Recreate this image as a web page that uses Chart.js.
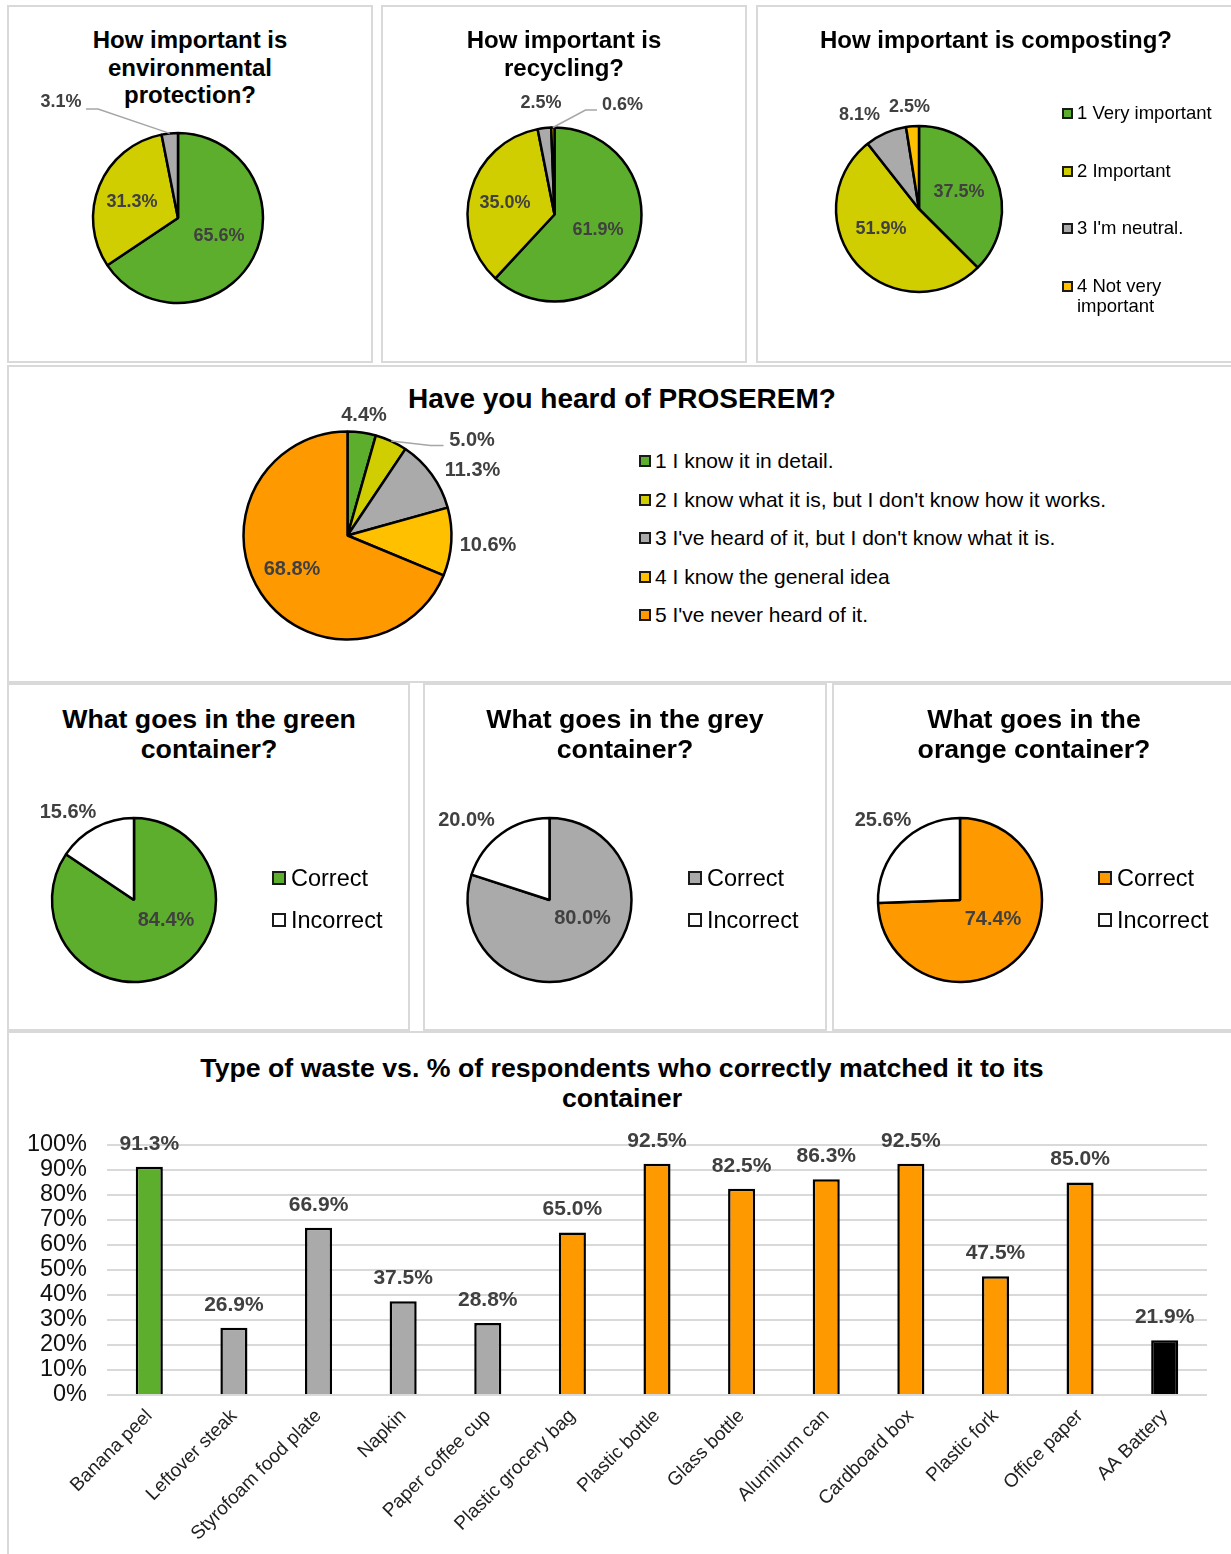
<!DOCTYPE html>
<html>
<head>
<meta charset="utf-8">
<title>Waste sorting survey</title>
<script src="https://cdn.jsdelivr.net/npm/chart.js@4.4.1/dist/chart.umd.min.js"></script>
<style>
  body { margin: 0; background: #fff; }
  #page { position: relative; width: 1231px; height: 1554px; overflow: hidden;
          font-family: "Liberation Sans", Arial, sans-serif; }
  .panel { position: absolute; border: 2px solid #d9d9d9; box-sizing: border-box; }
  canvas { position: absolute; }
  .title { position: absolute; text-align: center; font-weight: bold; color: #000; white-space: nowrap; }
  .item { position: absolute; color: #000; }
  .item .box { position: absolute; left: 0; box-sizing: border-box; border: 2px solid #1a1a1a; }
  .item .txt { position: absolute; white-space: normal; }
</style>
</head>
<body>
<div id="page"></div>
<script>
// survey answers (percent of respondents)
const importanceLabels = ['1 Very important', '2 Important', "3 I'm neutral.", '4 Not very important'];
const envProtection = [65.6, 31.3, 3.1];
const recycling = [61.9, 35.0, 2.5, 0.6];
const composting = [37.5, 51.9, 8.1, 2.5];

const proseremLabels = [
  '1 I know it in detail.',
  "2 I know what it is, but I don't know how it works.",
  "3 I've heard of it, but I don't know what it is.",
  '4 I know the general idea',
  "5 I've never heard of it."
];
const proseremValues = [4.4, 5.0, 11.3, 10.6, 68.8];

const containerLabels = ['Correct', 'Incorrect'];
const greenContainer = [84.4, 15.6];
const greyContainer = [80.0, 20.0];
const orangeContainer = [74.4, 25.6];

const wasteItems = ['Banana peel', 'Leftover steak', 'Styrofoam food plate', 'Napkin', 'Paper coffee cup',
  'Plastic grocery bag', 'Plastic bottle', 'Glass bottle', 'Aluminum can', 'Cardboard box',
  'Plastic fork', 'Office paper', 'AA Battery'];
const wasteCorrect = [91.3, 26.9, 66.9, 37.5, 28.8, 65.0, 92.5, 82.5, 86.3, 92.5, 47.5, 85.0, 21.9];
const wasteBin = ['green', 'grey', 'grey', 'grey', 'grey', 'orange', 'orange', 'orange', 'orange',
  'orange', 'orange', 'orange', 'battery'];
const yMax = 100;
const yStep = 10;

// colours
const GREEN = '#5eae2e', OLIVE = '#d0ce00', GREY = '#aaaaaa', GOLD = '#ffc000', ORANGE = '#ff9900';
const binColors = { green: GREEN, grey: GREY, orange: ORANGE, battery: '#000000' };
const FONT = '"Liberation Sans", Arial, sans-serif';

Chart.defaults.font.family = FONT;

const page = document.getElementById('page');

function el(tag, cls, css) {
  const d = document.createElement(tag);
  if (cls) d.className = cls;
  Object.assign(d.style, css || {});
  page.appendChild(d);
  return d;
}

function panel(x, y, w, h) {
  el('div', 'panel', { left: x + 'px', top: y + 'px', width: w + 'px', height: h + 'px' });
}

function title(lines, cx, firstY, size, lh) {
  const d = el('div', 'title', {
    left: (cx - 600) + 'px', width: '1200px', top: (firstY - lh / 2) + 'px',
    fontSize: size + 'px', lineHeight: lh + 'px'
  });
  lines.forEach((t, i) => {
    if (i) d.appendChild(document.createElement('br'));
    d.appendChild(document.createTextNode(t));
  });
}

function legend(labels, colors, lg) {
  labels.forEach((t, i) => {
    const it = el('div', 'item', { left: lg.x + 'px', top: (lg.ys[i] - lg.lh / 2) + 'px',
      fontSize: lg.size + 'px', lineHeight: lg.lh + 'px' });
    const b = document.createElement('span');
    b.className = 'box';
    Object.assign(b.style, { width: lg.box + 'px', height: lg.box + 'px', top: ((lg.lh - lg.box) / 2) + 'px',
      background: colors[i] });
    it.appendChild(b);
    const s = document.createElement('span');
    s.className = 'txt';
    s.style.left = (lg.box + lg.gap) + 'px';
    s.style.width = (lg.wrap || 800) + 'px';
    s.textContent = t;
    it.appendChild(s);
  });
}

// value labels for pie slices, placed from each arc's own geometry
const pieLabels = {
  id: 'pieLabels',
  afterDatasetsDraw(chart, args, opts) {
    const ctx = chart.ctx;
    const meta = chart.getDatasetMeta(0);
    const vals = chart.data.datasets[0].data;
    ctx.save();
    ctx.font = 'bold ' + opts.size + 'px ' + FONT;
    ctx.fillStyle = '#404040';
    ctx.textAlign = 'center';
    ctx.textBaseline = 'middle';
    meta.data.forEach((arc, i) => {
      const a = arc.getProps(['x', 'y', 'startAngle', 'endAngle', 'outerRadius'], true);
      const mid = (a.startAngle + a.endAngle) / 2;
      const spot = opts.spots[i] || {};
      let lx = a.x + Math.cos(mid) * a.outerRadius * 0.55;
      let ly = a.y + Math.sin(mid) * a.outerRadius * 0.55;
      if (spot.at) { lx = a.x + spot.at[0]; ly = a.y + spot.at[1]; }
      if (spot.leader) {
        ctx.strokeStyle = '#a6a6a6';
        ctx.lineWidth = 1.5;
        ctx.beginPath();
        ctx.moveTo(a.x + Math.cos(mid) * a.outerRadius, a.y + Math.sin(mid) * a.outerRadius);
        spot.leader.forEach(p => ctx.lineTo(a.x + p[0], a.y + p[1]));
        ctx.stroke();
      }
      ctx.fillText(vals[i].toFixed(1) + '%', lx, ly);
    });
    ctx.restore();
  }
};

function pie(box, center, labels, values, colors, spots, labelSize) {
  const cv = el('canvas', null, { left: box.x + 'px', top: box.y + 'px' });
  cv.width = box.w;
  cv.height = box.h;
  const cx = center.x - box.x, cy = center.y - box.y, s = center.r + 6;
  new Chart(cv, {
    type: 'pie',
    data: {
      labels: labels,
      datasets: [{ data: values, backgroundColor: colors, borderColor: '#000', borderWidth: 2.5 }]
    },
    options: {
      responsive: false,
      animation: false,
      radius: center.r,
      layout: { padding: { left: cx - s, top: cy - s, right: box.w - cx - s, bottom: box.h - cy - s } },
      plugins: {
        legend: { display: false },
        tooltip: { enabled: false },
        pieLabels: { spots: spots, size: labelSize }
      }
    },
    plugins: [pieLabels]
  });
}

// panel frames
panel(7, 5, 366, 358);
panel(381, 5, 366, 358);
panel(756, 5, 490, 358);
panel(7, 365, 1240, 318);
panel(7, 683, 403, 348);
panel(423, 683, 404, 348);
panel(832, 683, 414, 348);
panel(7, 1031, 1240, 540);

// row 1: importance questions
title(['How important is', 'environmental', 'protection?'], 190, 40, 24, 27.3);
pie({ x: 9, y: 7, w: 362, h: 354 }, { x: 178, y: 218, r: 85 }, importanceLabels.slice(0, 3),
  envProtection, [GREEN, OLIVE, GREY],
  [{ at: [41, 18] }, { at: [-46, -16] }, { at: [-117, -116], leader: [[-80, -109], [-92, -109]] }], 18);

title(['How important is', 'recycling?'], 564, 40, 24, 27.3);
pie({ x: 383, y: 7, w: 362, h: 354 }, { x: 554.5, y: 214.5, r: 87 }, importanceLabels,
  recycling, [GREEN, OLIVE, GREY, GOLD],
  [{ at: [43.5, 15.5] }, { at: [-49.5, -11.5] }, { at: [-13.5, -111] },
   { at: [68, -109.5], leader: [[31, -104.5], [42.5, -104.5]] }], 18);

title(['How important is composting?'], 996, 40, 24, 27.3);
pie({ x: 758, y: 7, w: 290, h: 354 }, { x: 919, y: 209, r: 83 }, importanceLabels,
  composting, [GREEN, OLIVE, GREY, GOLD],
  [{ at: [40, -16.5] }, { at: [-38, 20] }, { at: [-59.5, -93.5] }, { at: [-9.5, -102] }], 18);
legend(importanceLabels, [GREEN, OLIVE, GREY, GOLD],
  { x: 1062, ys: [113, 171, 228, 286], size: 18.5, lh: 19.5, box: 11, gap: 4, wrap: 148 });

// row 2: PROSEREM awareness
title(['Have you heard of PROSEREM?'], 622, 399, 28, 30);
pie({ x: 9, y: 367, w: 600, h: 314 }, { x: 347.5, y: 535.5, r: 104 }, proseremLabels,
  proseremValues, [GREEN, OLIVE, GREY, GOLD, ORANGE],
  [{ at: [16.5, -120] }, { at: [124.5, -95.5], leader: [[83, -90], [96, -90]] },
   { at: [125, -65] }, { at: [140.5, 10] }, { at: [-55.5, 34] }], 20);
legend(proseremLabels, [GREEN, OLIVE, GREY, GOLD, ORANGE],
  { x: 639, ys: [461, 500, 538, 577, 615], size: 21, lh: 24, box: 12, gap: 4 });

// row 3: container quizzes
title(['What goes in the green', 'container?'], 209, 719, 26.7, 30);
pie({ x: 9, y: 685, w: 399, h: 344 }, { x: 134, y: 900, r: 82 }, containerLabels,
  greenContainer, [GREEN, '#ffffff'], [{ at: [32, 20] }, { at: [-66, -88] }], 20);
legend(containerLabels, [GREEN, '#ffffff'], { x: 272, ys: [878, 920], size: 23.5, lh: 28, box: 14, gap: 5 });

title(['What goes in the grey', 'container?'], 625, 719, 26.7, 30);
pie({ x: 425, y: 685, w: 400, h: 344 }, { x: 549.5, y: 900, r: 82 }, containerLabels,
  greyContainer, [GREY, '#ffffff'], [{ at: [33, 18.5] }, { at: [-83, -80] }], 20);
legend(containerLabels, [GREY, '#ffffff'], { x: 688, ys: [878, 920], size: 23.5, lh: 28, box: 14, gap: 5 });

title(['What goes in the', 'orange container?'], 1034, 719, 26.7, 30);
pie({ x: 834, y: 685, w: 396, h: 344 }, { x: 960, y: 900, r: 82 }, containerLabels,
  orangeContainer, [ORANGE, '#ffffff'], [{ at: [33, 19] }, { at: [-77, -79.5] }], 20);
legend(containerLabels, [ORANGE, '#ffffff'], { x: 1098, ys: [878, 920], size: 23.5, lh: 28, box: 14, gap: 5 });

// row 4: bar chart of correct matches per waste type
title(['Type of waste vs. % of respondents who correctly matched it to its', 'container'], 622, 1068, 26.7, 30);

const barValues = {
  id: 'barValues',
  afterDatasetsDraw(chart) {
    const ctx = chart.ctx;
    const meta = chart.getDatasetMeta(0);
    ctx.save();
    ctx.font = 'bold 21px ' + FONT;
    ctx.fillStyle = '#404040';
    ctx.textAlign = 'center';
    ctx.textBaseline = 'middle';
    meta.data.forEach((bar, i) => {
      ctx.fillText(wasteCorrect[i].toFixed(1) + '%', bar.x, bar.y - 23);
    });
    ctx.restore();
  }
};

const barCanvas = el('canvas', null, { left: '8px', top: '1032px' });
barCanvas.width = 1223;
barCanvas.height = 522;
new Chart(barCanvas, {
  type: 'bar',
  data: {
    labels: wasteItems,
    datasets: [{
      data: wasteCorrect,
      backgroundColor: wasteBin.map(b => binColors[b]),
      borderColor: '#000',
      borderWidth: 2.5,
      categoryPercentage: 1,
      barPercentage: 0.32
    }]
  },
  options: {
    responsive: false,
    animation: false,
    layout: { padding: { top: 113, right: 24, left: 0, bottom: 0 } },
    scales: {
      x: {
        grid: { display: false, drawTicks: false },
        border: { display: false },
        ticks: { autoSkip: false, minRotation: 45, maxRotation: 45, padding: 10,
          color: '#222', font: { size: 19 } },
        afterFit(scale) { scale.height = 159; }
      },
      y: {
        min: 0,
        max: yMax,
        grid: { color: '#d9d9d9', lineWidth: 2, drawTicks: false },
        border: { display: false },
        ticks: { stepSize: yStep, autoSkip: false, padding: 20, color: '#111', font: { size: 23.5 },
          callback: v => v + '%' },
        afterFit(scale) { scale.width = 99; }
      }
    },
    plugins: {
      legend: { display: false },
      tooltip: { enabled: false }
    }
  },
  plugins: [barValues]
});
</script>
</body>
</html>
